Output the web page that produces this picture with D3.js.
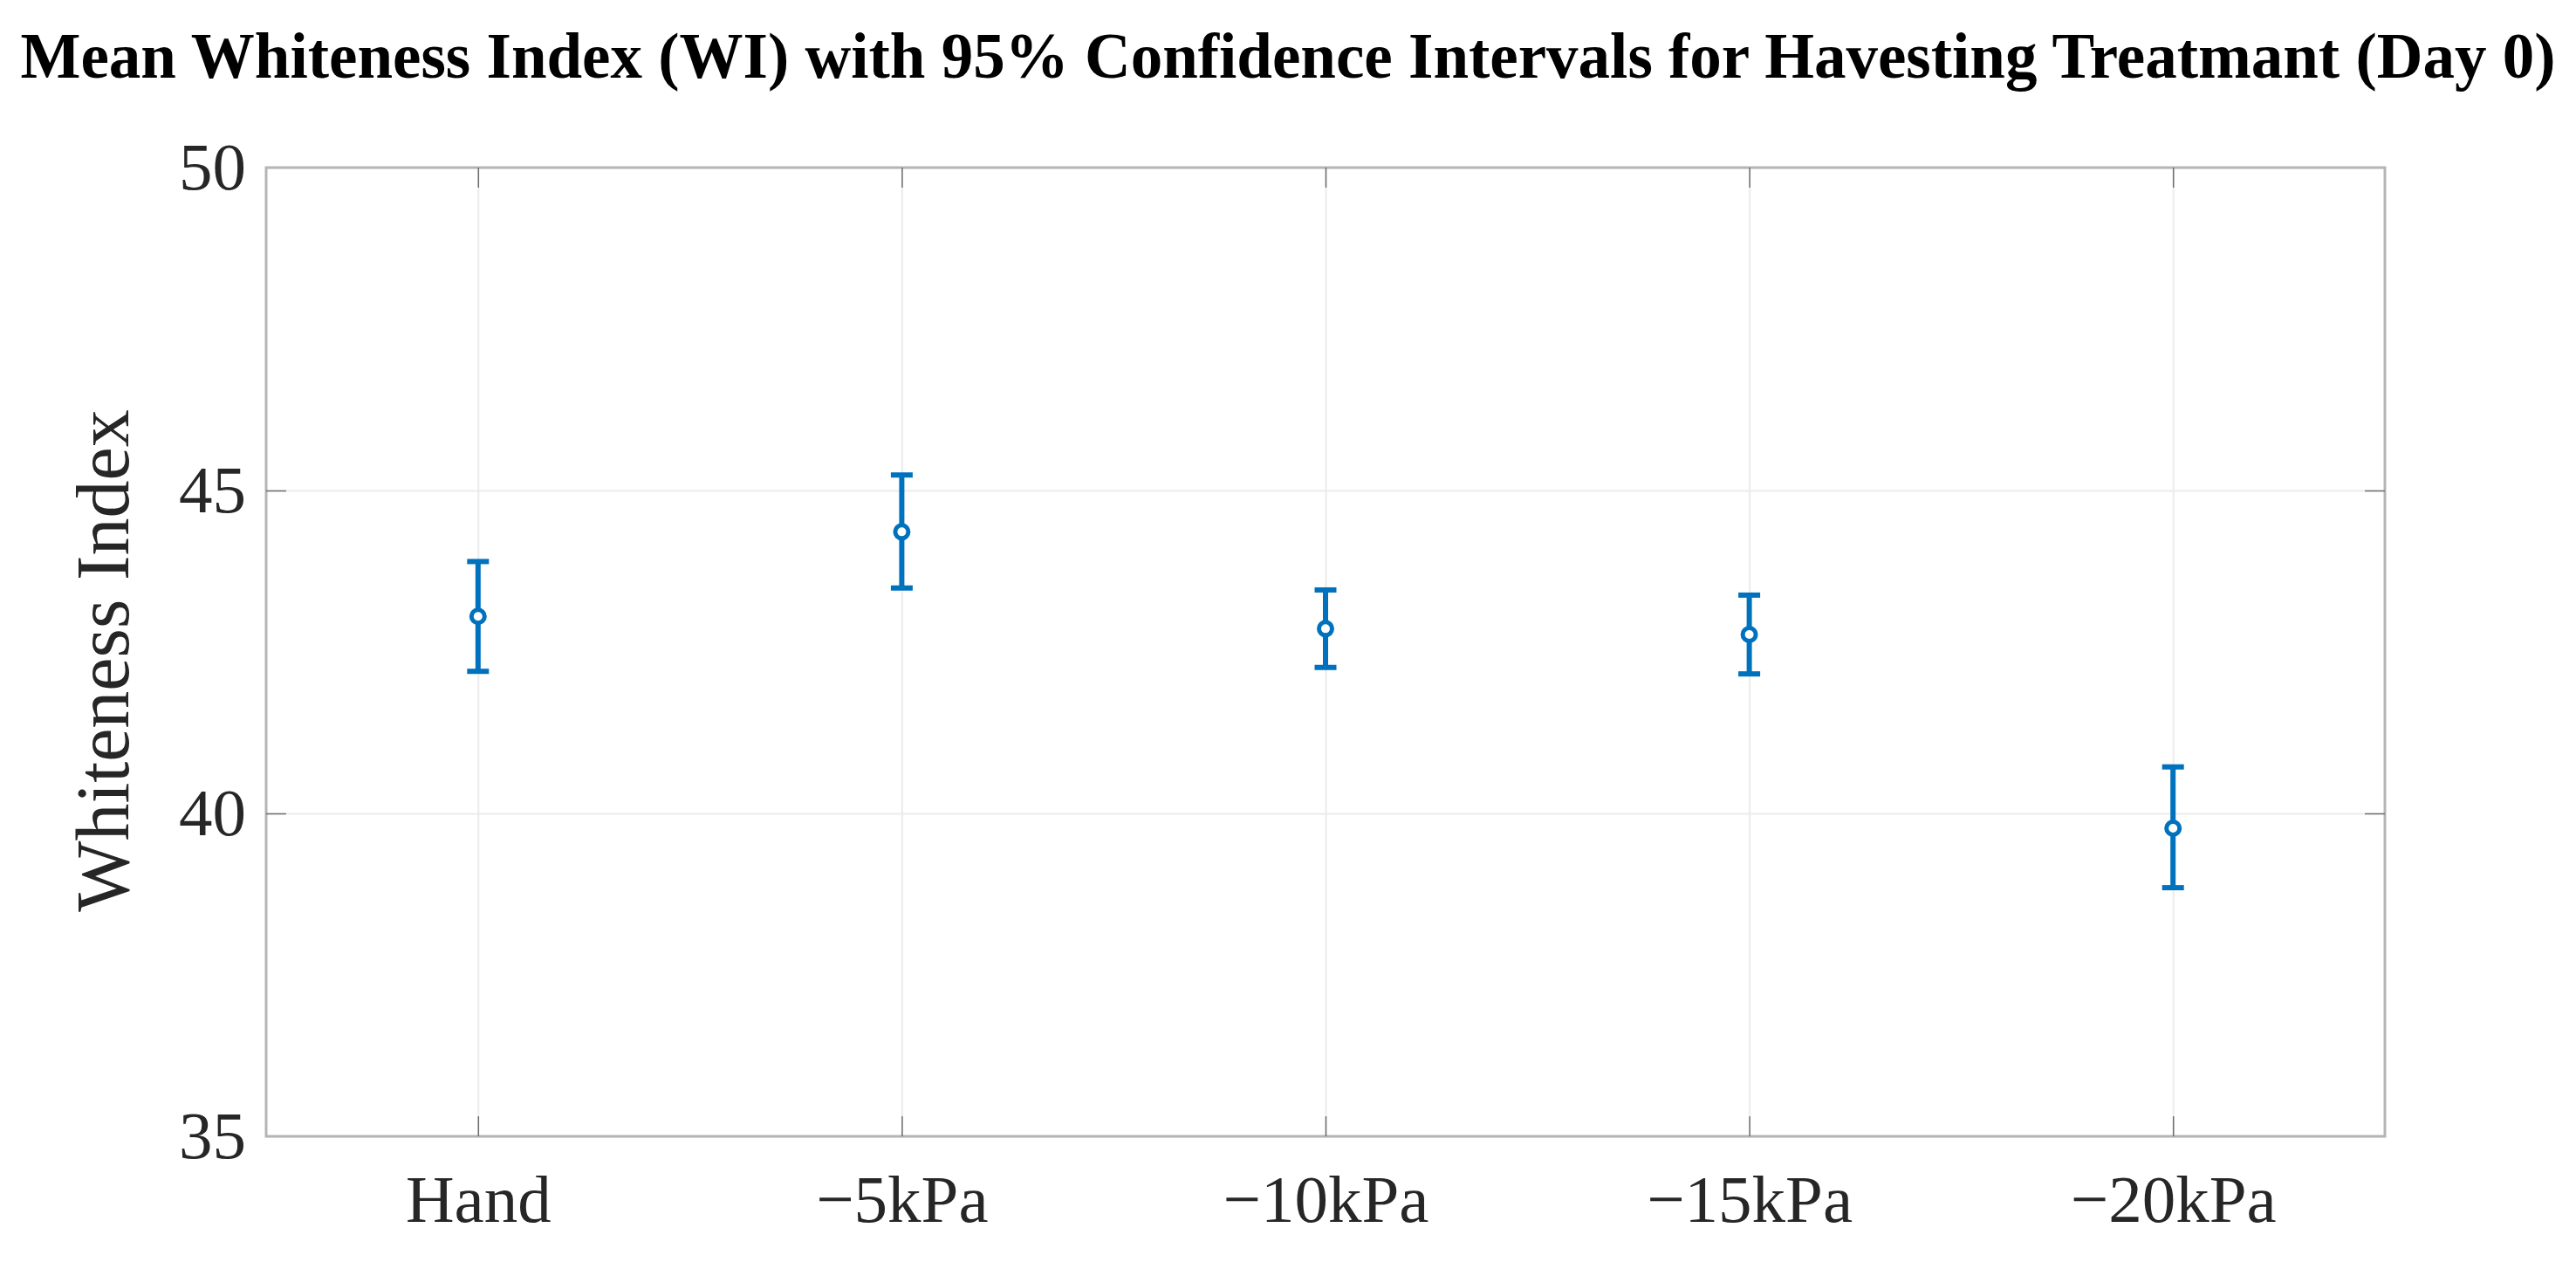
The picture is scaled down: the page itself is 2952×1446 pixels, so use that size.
<!DOCTYPE html>
<html>
<head>
<meta charset="utf-8">
<script src="https://cdn.jsdelivr.net/npm/d3@7"></script>
<style>
  html, body { margin: 0; padding: 0; background: #fff; }
  text { font-family: "Liberation Serif", "Times New Roman", serif; }
</style>
</head>
<body>
<div id="chart"></div>
<script>
// data
var categories = ["Hand", "\u22125kPa", "\u221210kPa", "\u221215kPa", "\u221220kPa"];
var means = [43.05, 44.36, 42.86, 42.77, 39.77];
var upper = [43.90, 45.24, 43.46, 43.38, 40.72];
var lower = [42.20, 43.49, 42.26, 42.16, 38.85];
var yTicks = [35, 40, 45, 50];

var W = 2952, H = 1446;
var margin = {top: 192, right: 219, bottom: 144, left: 305};
var iw = W - margin.left - margin.right,
    ih = H - margin.top - margin.bottom;
var blue = "#0072BD";

var svg = d3.select("#chart").append("svg")
    .attr("width", W)
    .attr("height", H)
    .attr("viewBox", "0 0 " + W + " " + H);

var g = svg.append("g")
    .attr("transform", "translate(" + margin.left + "," + margin.top + ")");

var x = d3.scaleLinear().domain([0.5, 5.5]).range([0, iw]);
var y = d3.scaleLinear().domain([35, 50]).range([ih, 0]);
var idx = d3.range(1, categories.length + 1);

// grid lines
var grid = g.append("g").attr("class", "grid");
grid.append("g")
    .call(d3.axisBottom(x).tickValues(idx).tickSize(ih).tickFormat(""))
    .call(function (s) { s.select(".domain").remove(); });
grid.append("g")
    .call(d3.axisLeft(y).tickValues(yTicks).tickSize(-iw).tickFormat(""))
    .call(function (s) { s.select(".domain").remove(); });
grid.selectAll("line").attr("stroke", "#ebebeb").attr("stroke-width", 2);

// box
g.append("rect")
    .attr("x", 0).attr("y", 0)
    .attr("width", iw).attr("height", ih)
    .attr("fill", "none")
    .attr("stroke", "#b5b5b5")
    .attr("stroke-width", 3);

// axes with inward ticks
var tickLen = 23;
var xAxis = g.append("g")
    .attr("transform", "translate(0," + ih + ")")
    .call(d3.axisBottom(x).tickValues(idx).tickSize(-tickLen).tickPadding(43)
        .tickFormat(function (d) { return categories[d - 1]; }));
var xTop = g.append("g")
    .call(d3.axisTop(x).tickValues(idx).tickSize(-tickLen).tickFormat(""));
var yAxis = g.append("g")
    .call(d3.axisLeft(y).tickValues(yTicks).tickSize(-tickLen).tickPadding(23));
var yRight = g.append("g")
    .attr("transform", "translate(" + iw + ",0)")
    .call(d3.axisRight(y).tickValues(yTicks).tickSize(-tickLen).tickFormat(""));

[xAxis, xTop, yAxis, yRight].forEach(function (a) {
    a.select(".domain").remove();
    a.selectAll(".tick line").attr("stroke", "#6e6e6e").attr("stroke-width", 1.5);
    a.selectAll(".tick text")
        .attr("fill", "#262626")
        .style("font-family", "'Liberation Serif', 'Times New Roman', serif")
        .style("font-size", "77px");
});
// hide ticks at the corners
yAxis.selectAll(".tick").filter(function (d) { return d === 35 || d === 50; }).select("line").remove();
yRight.selectAll(".tick").filter(function (d) { return d === 35 || d === 50; }).select("line").remove();

// error bars
var capW = 12.5;
var bars = g.append("g").attr("class", "errorbars");
idx.forEach(function (d, i) {
    var cx = x(d);
    bars.append("line")
        .attr("x1", cx).attr("x2", cx)
        .attr("y1", y(upper[i])).attr("y2", y(lower[i]))
        .attr("stroke", blue).attr("stroke-width", 6);
    bars.append("line")
        .attr("x1", cx - capW).attr("x2", cx + capW)
        .attr("y1", y(upper[i])).attr("y2", y(upper[i]))
        .attr("stroke", blue).attr("stroke-width", 6);
    bars.append("line")
        .attr("x1", cx - capW).attr("x2", cx + capW)
        .attr("y1", y(lower[i])).attr("y2", y(lower[i]))
        .attr("stroke", blue).attr("stroke-width", 6);
    bars.append("circle")
        .attr("cx", cx).attr("cy", y(means[i]))
        .attr("r", 7.5)
        .attr("fill", "#fff")
        .attr("stroke", blue).attr("stroke-width", 5);
});

// y label
svg.append("text")
    .attr("transform", "translate(147," + (margin.top + ih / 2 + 10) + ") rotate(-90)")
    .attr("text-anchor", "middle")
    .attr("fill", "#262626")
    .style("font-size", "86px")
    .text("Whiteness Index");

// title
svg.append("text")
    .attr("x", W / 2)
    .attr("y", 89)
    .attr("text-anchor", "middle")
    .attr("fill", "#000")
    .style("font-size", "73px")
    .style("font-weight", "bold")
    .text("Mean Whiteness Index (WI) with 95% Confidence Intervals for Havesting Treatmant (Day 0)");
</script>
</body>
</html>
